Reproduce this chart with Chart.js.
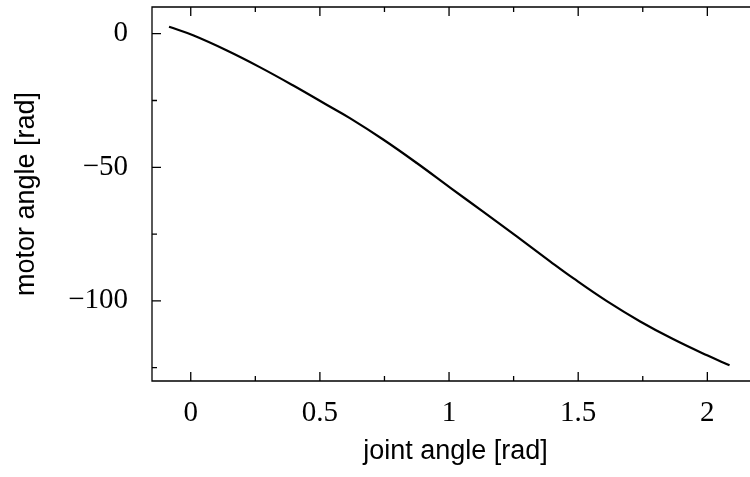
<!DOCTYPE html>
<html>
<head>
<meta charset="utf-8">
<title>motor angle vs joint angle</title>
<script src="https://cdn.jsdelivr.net/npm/chart.js@4/dist/chart.umd.min.js"></script>
<style>
  html, body { margin: 0; padding: 0; background: #fff; overflow: hidden; }
  #wrap { width: 750px; height: 477px; overflow: hidden; }
</style>
</head>
<body>
<div id="wrap"><canvas id="c" width="761" height="477"></canvas></div>
<script>
// joint angle [rad] and corresponding motor angle [rad]
const jointAngle = [-0.084, 0.009, 0.138, 0.267, 0.397, 0.526, 0.616, 0.745, 0.875, 1.004, 1.133, 1.262, 1.391, 1.482, 1.611, 1.740, 1.869, 1.999, 2.086];
const motorAngle = [2.6, -0.6, -6.2, -12.5, -19.4, -26.6, -31.6, -39.6, -48.4, -57.6, -66.7, -75.9, -85.2, -91.6, -100.1, -107.7, -114.4, -120.4, -124.1];

// axis ticks
const xMajorTicks = [0, 0.5, 1, 1.5, 2];
const xMinorTicks = [0.25, 0.75, 1.25, 1.75];
const yMajorTicks = [-100, -50, 0];
const yMinorTicks = [-125, -75, -25];

const points = jointAngle.map((x, i) => ({ x: x, y: motorAngle[i] }));

const fmt = v => String(v).replace('-', '\u2212');

// frame with inward ticks on all four sides
const framePlugin = {
  id: 'frame',
  afterDatasetsDraw(chart) {
    const { ctx, chartArea: a, scales: { x, y } } = chart;
    ctx.save();
    ctx.strokeStyle = '#000';
    ctx.lineWidth = 1.3;
    ctx.beginPath();
    ctx.rect(a.left, a.top, a.right - a.left, a.bottom - a.top);
    ctx.stroke();
    ctx.beginPath();
    const major = 9, minor = 5;
    const xt = (vals, len) => vals.forEach(v => {
      const p = x.getPixelForValue(v);
      ctx.moveTo(p, a.bottom); ctx.lineTo(p, a.bottom - len);
      ctx.moveTo(p, a.top); ctx.lineTo(p, a.top + len);
    });
    const yt = (vals, len) => vals.forEach(v => {
      const p = y.getPixelForValue(v);
      ctx.moveTo(a.left, p); ctx.lineTo(a.left + len, p);
      ctx.moveTo(a.right, p); ctx.lineTo(a.right - len, p);
    });
    xt(xMajorTicks, major); xt(xMinorTicks, minor);
    yt(yMajorTicks, major); yt(yMinorTicks, minor);
    ctx.stroke();
    ctx.restore();
  }
};

const tickFont = { family: '"Liberation Serif", serif', size: 29 };
const titleFont = { family: '"Liberation Sans", sans-serif', size: 27 };

new Chart(document.getElementById('c'), {
  type: 'line',
  data: {
    datasets: [{
      data: points,
      borderColor: '#000',
      borderWidth: 2.2,
      pointRadius: 0,
      fill: false,
      tension: 0.4
    }]
  },
  options: {
    responsive: false,
    animation: false,
    devicePixelRatio: 1,
    layout: { padding: { top: 7, right: 2, left: 0, bottom: 0 } },
    plugins: { legend: { display: false }, tooltip: { enabled: false } },
    scales: {
      x: {
        type: 'linear',
        min: -0.15,
        max: 2.2,
        grid: { display: false, drawTicks: false },
        border: { display: false },
        afterBuildTicks: s => { s.ticks = xMajorTicks.map(v => ({ value: v })); },
        afterFit: s => { s.height = 96; s.paddingLeft = 0; s.paddingRight = 0; },
        ticks: {
          color: '#000',
          padding: 15,
          maxRotation: 0,
          font: tickFont,
          callback: v => fmt(v)
        },
        title: {
          display: true,
          text: 'joint angle [rad]',
          color: '#000',
          font: titleFont,
          padding: { top: 0, bottom: 9 }
        }
      },
      y: {
        type: 'linear',
        min: -130,
        max: 10,
        grid: { display: false, drawTicks: false },
        border: { display: false },
        afterBuildTicks: s => { s.ticks = yMajorTicks.map(v => ({ value: v })); },
        afterFit: s => { s.width = 152; s.paddingTop = 0; s.paddingBottom = 0; },
        ticks: {
          color: '#000',
          padding: 24,
          font: tickFont,
          callback: v => fmt(v)
        },
        title: {
          display: true,
          text: 'motor angle [rad]',
          color: '#000',
          font: titleFont,
          padding: { top: 10, bottom: 0 }
        }
      }
    }
  },
  plugins: [framePlugin]
});
</script>
</body>
</html>
